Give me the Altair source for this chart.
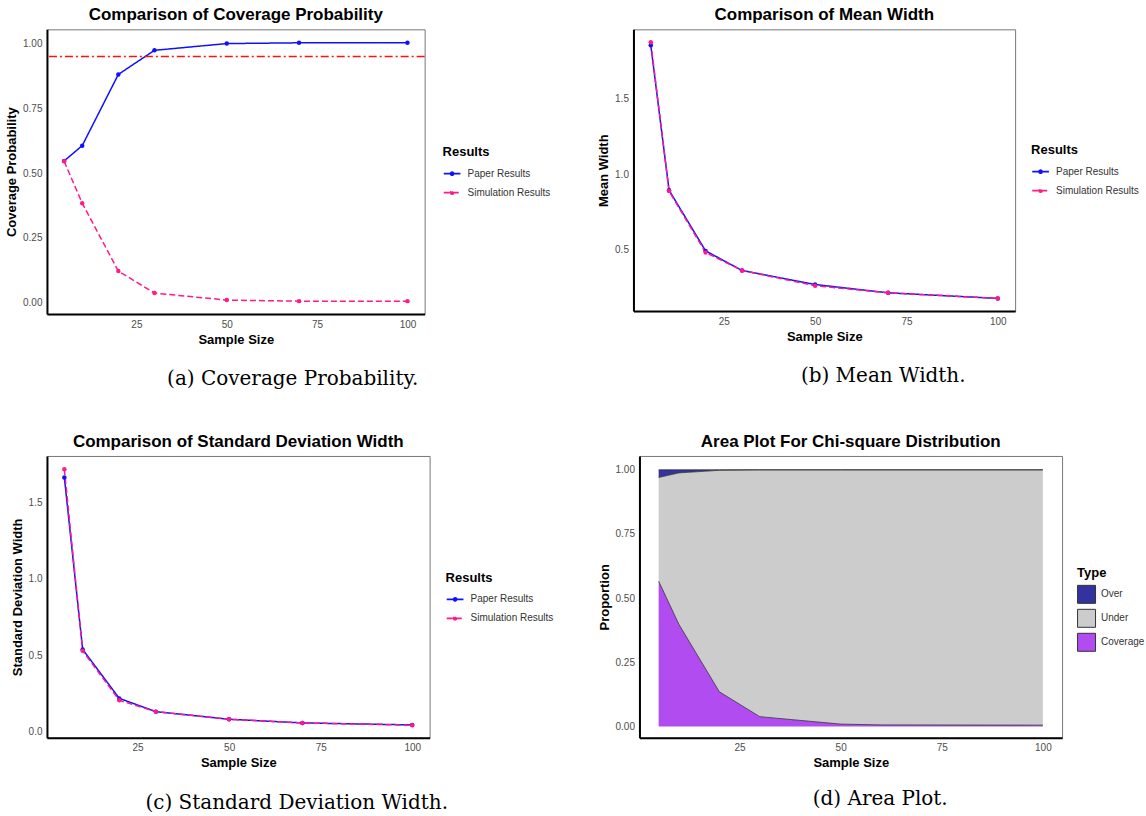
import altair as alt
import pandas as pd

# ---------------- data ----------------
sample_sizes = [5, 10, 20, 30, 50, 70, 100]
series_names = ["Paper Results", "Simulation Results"]

coverage_paper = [0.547, 0.606, 0.881, 0.974, 1.000, 1.003, 1.003]
coverage_sim = [0.546, 0.384, 0.122, 0.037, 0.010, 0.006, 0.006]
nominal_level = [0.95]

mean_width_paper = [1.855, 0.895, 0.493, 0.363, 0.270, 0.215, 0.178]
mean_width_sim = [1.875, 0.889, 0.482, 0.363, 0.262, 0.215, 0.178]

sd_width_paper = [1.666, 0.538, 0.217, 0.130, 0.080, 0.056, 0.043]
sd_width_sim = [1.720, 0.529, 0.204, 0.130, 0.080, 0.056, 0.041]

area_sizes = [5, 10, 20, 30, 50, 60, 100]
area_types = ["Over", "Under", "Coverage"]
area_over = [0.030, 0.012, 0.002, 0.000, 0.000, 0.000, 0.000]
area_under = [0.404, 0.590, 0.863, 0.962, 0.991, 0.994, 0.995]
area_coverage = [0.566, 0.398, 0.135, 0.038, 0.009, 0.006, 0.005]

titles = [
    "Comparison of Coverage Probability",
    "Comparison of Mean Width",
    "Comparison of Standard Deviation Width",
    "Area Plot For Chi-square Distribution",
]
y_titles = ["Coverage Probability", "Mean Width", "Standard Deviation Width", "Proportion"]
captions = [
    "(a) Coverage Probability.",
    "(b) Mean Width.",
    "(c) Standard Deviation Width.",
    "(d) Area Plot.",
]

SANS = "Liberation Sans"
SERIF = "DejaVu Serif"
X_DOMAIN = [0.25, 104.75]
X_TICKS = [25, 50, 75, 100]
SERIES_COLORS = ["#1010FF", "#FF1A8C"]
# legend key: a short line with a dot in the middle
LINE_DOT = "M-1,0L1,0M0.18,0A0.18,0.18 0 1 1 -0.18,0A0.18,0.18 0 1 1 0.18,0"


def long_table(paper, sim):
    rows = []
    for i, s in enumerate(sample_sizes):
        rows.append({"n": s, "value": paper[i], "Results": series_names[0]})
    for i, s in enumerate(sample_sizes):
        rows.append({"n": s, "value": sim[i], "Results": series_names[1]})
    return pd.DataFrame(rows)


def x_enc():
    return alt.X("n:Q", title="Sample Size",
                 scale=alt.Scale(domain=X_DOMAIN, nice=False, zero=False),
                 axis=alt.Axis(values=X_TICKS, format="d"))


def caption_layer(idx, dx, dy):
    return alt.Chart(pd.DataFrame({"caption": [captions[idx]]})).mark_text(
        font=SERIF, fontSize=20, align="center", baseline="middle", color="black"
    ).encode(x=alt.value(dx), y=alt.value(dy), text="caption:N")


def results_legend(lx, ly):
    return alt.Legend(orient="none", legendX=lx, legendY=ly,
                      symbolType=LINE_DOT, symbolSize=280,
                      symbolStrokeWidth=1.7, rowPadding=4, labelOffset=6)


def comparison_panel(idx, paper, sim, y_domain, y_ticks, y_fmt, w, h, lx, ly, cx, cy, extra=None):
    df = long_table(paper, sim)
    y = alt.Y("value:Q", title=y_titles[idx],
              scale=alt.Scale(domain=y_domain, nice=False, zero=False),
              axis=alt.Axis(values=y_ticks, format=y_fmt))
    color = alt.Color("Results:N", title="Results",
                      scale=alt.Scale(domain=series_names, range=SERIES_COLORS),
                      legend=results_legend(lx, ly))
    dash = alt.StrokeDash("Results:N", title="Results",
                          scale=alt.Scale(domain=series_names, range=[[1, 0], [6, 3]]),
                          legend=results_legend(lx, ly))
    lines = alt.Chart(df).mark_line(strokeWidth=1.5).encode(
        x=x_enc(), y=y, color=color, strokeDash=dash
    )
    points = alt.Chart(df).mark_circle(size=20, opacity=1).encode(
        x=x_enc(), y=y, color=alt.Color("Results:N", legend=None,
                                         scale=alt.Scale(domain=series_names, range=SERIES_COLORS))
    )
    layers = [lines, points]
    if extra is not None:
        layers.append(extra)
    layers.append(caption_layer(idx, cx, cy))
    return alt.layer(*layers).properties(
        width=w, height=h,
        title=alt.Title(titles[idx], offset=5)
    )


# (a) coverage probability with nominal line
ref_rule = alt.Chart(pd.DataFrame({"level": nominal_level})).mark_rule(
    color="#FF1010", strokeWidth=1.6, strokeDash=[8, 3, 2, 3]
).encode(y="level:Q")

panel_a = comparison_panel(0, coverage_paper, coverage_sim, [-0.044, 1.055],
                           [0, 0.25, 0.5, 0.75, 1.0], ".2f", 378, 285,
                           396, 117, 246, 350, extra=ref_rule)
panel_b = comparison_panel(1, mean_width_paper, mean_width_sim, [0.094, 1.961],
                           [0.5, 1.0, 1.5], ".1f", 382, 282,
                           398, 115, 250, 347)
panel_c = comparison_panel(2, sd_width_paper, sd_width_sim, [-0.041, 1.807],
                           [0.0, 0.5, 1.0, 1.5], ".1f", 383, 282,
                           399, 116, 250, 347)

# (d) stacked area plot
area_rows = []
order_of = {"Coverage": 0, "Under": 1, "Over": 2}
for t, vals in zip(area_types, [area_over, area_under, area_coverage]):
    for i, s in enumerate(area_sizes):
        area_rows.append({"n": s, "value": vals[i], "Type": t, "ord": order_of[t]})
area_df = pd.DataFrame(area_rows)

y_area = alt.Y("value:Q", title=y_titles[3], stack="zero",
               scale=alt.Scale(domain=[-0.044, 1.054], nice=False, zero=False),
               axis=alt.Axis(values=[0, 0.25, 0.5, 0.75, 1.0], format=".2f"))
areas = alt.Chart(area_df).mark_area(opacity=1).encode(
    x=x_enc(), y=y_area,
    color=alt.Color("Type:N", title="Type",
                    scale=alt.Scale(domain=area_types, range=["#33339F", "#CCCCCC", "#B04CF0"]),
                    legend=alt.Legend(orient="none", legendX=438, legendY=111,
                                      symbolType="square", symbolSize=324,
                                      symbolStrokeColor="#333333", symbolStrokeWidth=1,
                                      symbolOpacity=1, rowPadding=1, labelOffset=5)),
    order=alt.Order("ord:Q", sort="ascending"),
)
outlines = alt.Chart(area_df).transform_stack(
    stack="value", groupby=["n"], as_=["y0", "y1"],
    sort=[alt.SortField("ord", order="ascending")]
).mark_line(color="#333333", strokeWidth=0.8).encode(
    x=x_enc(), y=alt.Y("y1:Q"), detail="Type:N"
)
panel_d = alt.layer(areas, outlines, caption_layer(3, 241, 343)).properties(
    width=423, height=282, title=alt.Title(titles[3], offset=5)
)

row1 = alt.hconcat(panel_a, panel_b, spacing=45).resolve_scale(
    color="independent", strokeDash="independent")
row2 = alt.hconcat(panel_c, panel_d, spacing=43).resolve_scale(
    color="independent", strokeDash="independent")

chart = alt.vconcat(row1, row2, spacing=42).resolve_scale(
    color="independent", strokeDash="independent"
).properties(
    padding={"left": 5, "top": 5, "right": 0, "bottom": 0},
    background="white",
).configure_view(
    stroke="#777777", strokeWidth=1
).configure_axis(
    grid=False, ticks=False, domainColor="black", domainWidth=2,
    labelColor="#4D4D4D", labelFontSize=10, labelFont=SANS, labelPadding=5,
    titleFont=SANS, titleFontSize=13, titleFontWeight="bold", titleColor="black",
    titlePadding=4,
).configure_title(
    font=SANS, fontSize=17, fontWeight="bold", anchor="middle", color="black"
).configure_legend(
    titleFont=SANS, titleFontSize=13, titleFontWeight="bold", titleColor="black",
    labelFont=SANS, labelFontSize=10, labelColor="#333333",
)

chart.save("out.html", embed_options={"renderer": "svg", "actions": False})
